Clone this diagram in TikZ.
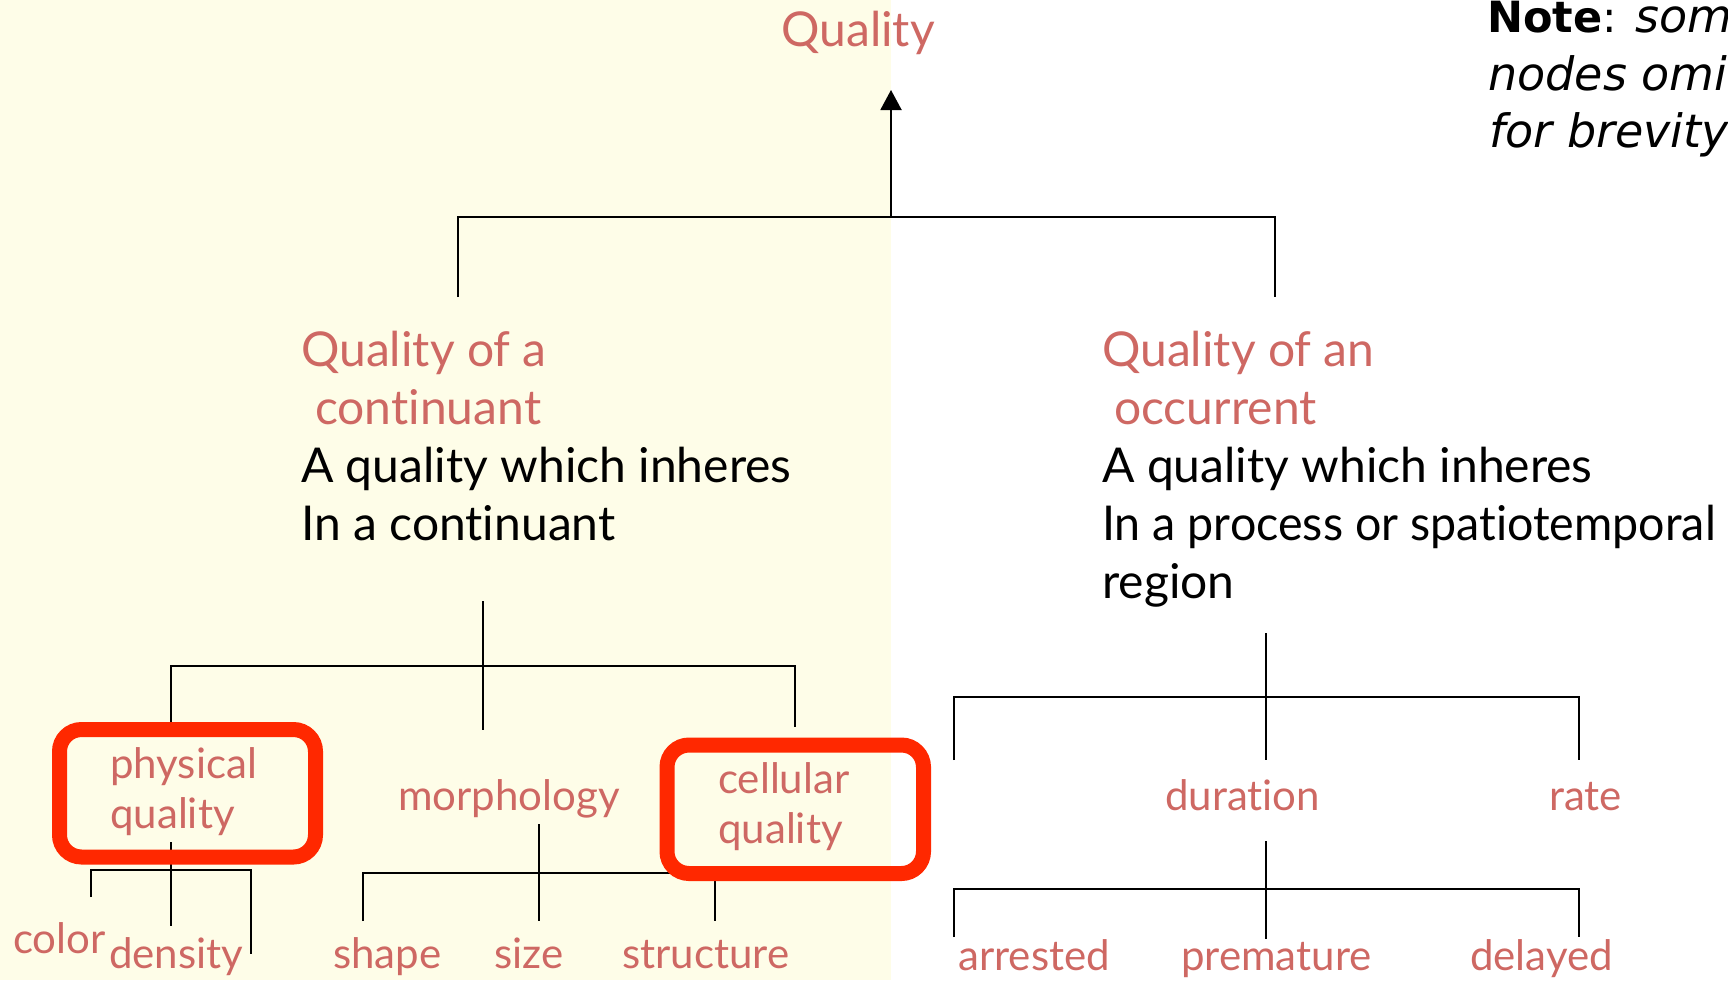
\documentclass[tikz,border=0pt]{standalone}
\usepackage{fontspec}
\setmainfont{Lato}[Ligatures=NoCommon]
\newfontfamily\notefont{DejaVu Sans}
\usetikzlibrary{arrows.meta}
\definecolor{cream}{RGB}{254,253,232}
\definecolor{rosetext}{RGB}{206,104,99}
\definecolor{hilite}{RGB}{255,40,0}
\newcommand{\noteit}[1]{{\fontsize{46}{57}\selectfont\itshape #1}}
\begin{document}
\begin{tikzpicture}[x=1pt,y=-1pt,
  big/.style={font=\fontsize{48}{58}\selectfont, inner sep=0pt, anchor=base west},
  title/.style={big, text=rosetext},
  desc/.style={big, text=black},
  leaf/.style={font=\fontsize{42}{50}\selectfont, inner sep=0pt, anchor=base west, text=rosetext},
  note/.style={font=\notefont\fontsize{43}{57}\selectfont, inner sep=0pt, anchor=base west},
  edge/.style={draw=black, line width=2pt},
  hbox/.style={draw=hilite, line width=15pt, rounded corners=22pt}]

\useasboundingbox (0,0) rectangle (1728,980);
\clip (0,0) rectangle (1728,980);
% continuant side is shaded
\fill[cream] (0,0) rectangle (891,980);

% ---- root ----
\node[big, text=rosetext, anchor=base] (root) at (858,46) {Quality};
\coordinate (rootTip) at (891,90);
\coordinate (rootJoin) at (891,217);

% ---- second level ----
\node[title] (lcT1) at (301,366) {Quality of a};
\node[title] (lcT2) at (315,424) {continuant};
\node[desc]  (lcD1) at (301,482) {A quality which inheres};
\node[desc]  (lcD2) at (301,540) {In a continuant};

\node[title] (ocT1) at (1102,366) {Quality of an};
\node[title] (ocT2) at (1114,424) {occurrent};
\node[desc]  (ocD1) at (1102,482) {A quality which inheres};
\node[desc]  (ocD2) at (1102,540) {\scalebox{0.97}[1]{In a process or spatiotemporal}};
\node[desc]  (ocD3) at (1102,598) {region};

\coordinate (lcBar) at (458,217);
\coordinate (lcTop) at (458,297);
\coordinate (ocBar) at (1275,217);
\coordinate (ocTop) at (1275,297);

\draw[edge,-{Triangle[length=20pt,width=21pt]}] (rootJoin) -- (rootTip);
\draw[edge] (lcTop) -- (lcBar) -- (ocBar) -- (ocTop);

% ---- continuant subtree ----
\node[leaf] (pq1) at (110,778) {physical};
\node[leaf] (pq2) at (110,828) {quality};
\node[leaf] (morph) at (398,810) {morphology};
\node[leaf] (cq1) at (718,793) {cellular};
\node[leaf] (cq2) at (718,843) {quality};

\coordinate (lcStem) at (483,601);
\coordinate (morphTop) at (483,730);
\coordinate (pqBar) at (171,666);
\coordinate (pqTop) at (171,729);
\coordinate (cqBar) at (795,666);
\coordinate (cqTop) at (795,727);
\draw[edge] (lcStem) -- (morphTop);
\draw[edge] (pqTop) -- (pqBar) -- (cqBar) -- (cqTop);

% physical quality children
\node[leaf] (color) at (13,953) {color};
\node[leaf] (density) at (109,968) {density};
\coordinate (pqStem) at (171,842);
\coordinate (densTop) at (171,926);
\coordinate (colBar) at (91,870);
\coordinate (colTop) at (91,897);
\coordinate (thirdBar) at (251,870);
\coordinate (thirdTop) at (251,954);
\draw[edge] (pqStem) -- (densTop);
\draw[edge] (colTop) -- (colBar) -- (thirdBar) -- (thirdTop);

% morphology children
\node[leaf] (shape) at (333,968) {shape};
\node[leaf] (size) at (494,968) {size};
\node[leaf] (structure) at (622,968) {structure};
\coordinate (morphStem) at (539,824);
\coordinate (sizeTop) at (539,921);
\coordinate (shapeBar) at (363,873);
\coordinate (shapeTop) at (363,921);
\coordinate (structBar) at (715,873);
\coordinate (structTop) at (715,921);
\draw[edge] (morphStem) -- (sizeTop);
\draw[edge] (shapeTop) -- (shapeBar) -- (structBar) -- (structTop);

% highlight frames
\draw[hbox] (59.5,729.5) rectangle (315.5,857);
\draw[hbox] (667,745) rectangle (923.5,873.5);

% ---- occurrent subtree ----
\node[leaf] (duration) at (1165,810) {duration};
\node[leaf] (rate) at (1549,810) {rate};
\coordinate (ocStem) at (1266,633);
\coordinate (durTop) at (1266,760);
\coordinate (leftBar) at (954,697);
\coordinate (leftTop) at (954,760);
\coordinate (rateBar) at (1579,697);
\coordinate (rateTop) at (1579,760);
\draw[edge] (ocStem) -- (durTop);
\draw[edge] (leftTop) -- (leftBar) -- (rateBar) -- (rateTop);

\node[leaf] (arrested) at (958,970) {arrested};
\node[leaf] (premature) at (1181,970) {premature};
\node[leaf] (delayed) at (1470,970) {delayed};
\coordinate (durStem) at (1266,841);
\coordinate (premTop) at (1266,939);
\coordinate (arrBar) at (954,889);
\coordinate (arrTop) at (954,937);
\coordinate (delBar) at (1579,889);
\coordinate (delTop) at (1579,937);
\draw[edge] (durStem) -- (premTop);
\draw[edge] (arrTop) -- (arrBar) -- (delBar) -- (delTop);

% ---- note ----
\node[note] (note1) at (1487,32) {\textbf{Note}: \noteit{some}};
\node[note] (note2) at (1488,90) {\noteit{nodes omitted}};
\node[note] (note3) at (1489,147) {\noteit{for brevity}};
\end{tikzpicture}
\end{document}
